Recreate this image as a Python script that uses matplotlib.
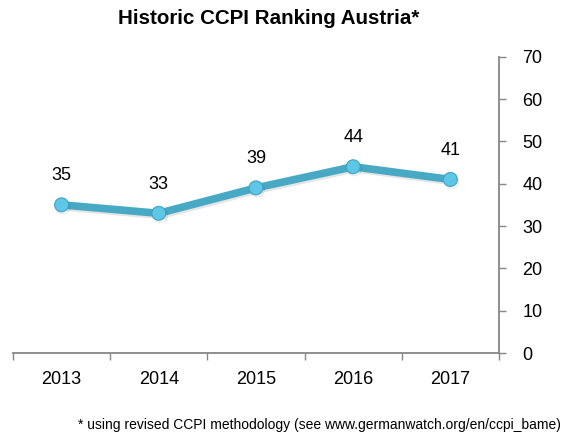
import matplotlib.pyplot as plt
import matplotlib.patheffects as pe
import numpy as np

# ===== data =====
years = ['2013', '2014', '2015', '2016', '2017']
ranking = [35, 33, 39, 44, 41]
y_ticks = [0, 10, 20, 30, 40, 50, 60, 70]

# ===== style =====
FONT = ['Liberation Sans', 'DejaVu Sans']
LINE_COLOR = '#48A9C5'
MARKER_COLOR = '#5EC6E6'
AXIS_COLOR = '#868686'
plt.rcParams['font.family'] = FONT

fig = plt.figure(figsize=(5.76, 4.41), dpi=100)
ax = fig.add_axes([13 / 576, 88 / 441, 486 / 576, 296.3 / 441])

x = np.arange(len(years))
ax.plot(x, ranking, color=LINE_COLOR, linewidth=5.5,
        marker='o', markersize=10, markerfacecolor=MARKER_COLOR,
        markeredgecolor='#3FA3C2', markeredgewidth=0.8,
        solid_capstyle='round', solid_joinstyle='round',
        path_effects=[pe.SimpleLineShadow(offset=(1, -1.5), alpha=0.1, shadow_color='black'),
                      pe.Normal()])

for xi, v in zip(x, ranking):
    ax.annotate(str(v), (xi, v), xytext=(0, 21), textcoords='offset points',
                ha='center', va='center', fontsize=13)

ax.set_xlim(-0.5, len(years) - 0.5)
ax.set_ylim(0, 70)

# category ticks at boundaries, labels at centres
ax.set_xticks(np.arange(-0.5, len(years), 1.0))
ax.set_xticklabels([''] * (len(years) + 1))
ax.set_xticks(x, minor=True)
ax.set_xticklabels(years, minor=True, fontsize=13)
ax.tick_params(axis='x', which='major', length=5, width=1, color=AXIS_COLOR, direction='out')
ax.tick_params(axis='x', which='minor', length=0, pad=13)

ax.yaxis.tick_right()
ax.set_yticks(y_ticks)
ax.tick_params(axis='y', length=5, width=1, color=AXIS_COLOR, direction='out',
               labelsize=13, pad=12)

for s in ['top', 'left']:
    ax.spines[s].set_visible(False)
for s in ['bottom', 'right']:
    ax.spines[s].set_color(AXIS_COLOR)
    ax.spines[s].set_linewidth(1.3)

fig.text(269 / 576, 1 - 18 / 441, 'Historic CCPI Ranking Austria*', ha='center', va='center',
         fontsize=14.8, fontweight='bold')
fig.text(561 / 576, 1 - 425 / 441,
         '* using revised CCPI methodology (see www.germanwatch.org/en/ccpi_bame)',
         ha='right', va='center', fontsize=10)

fig.savefig('out.png', dpi=100, facecolor='white')
